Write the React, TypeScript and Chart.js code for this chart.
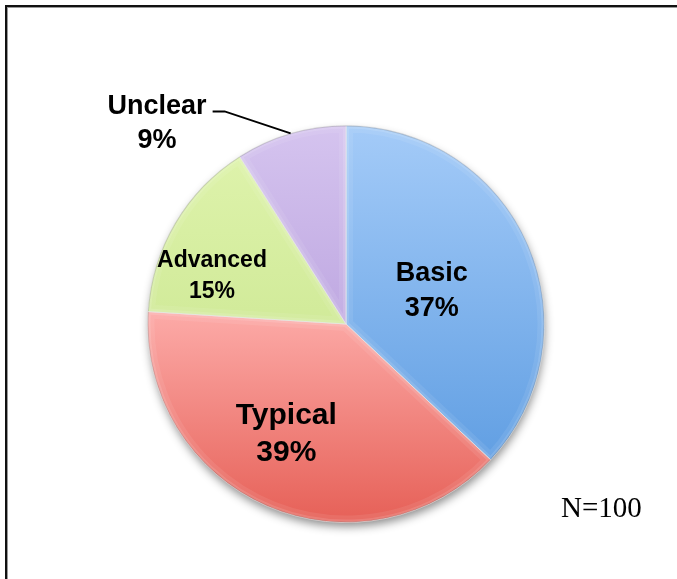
import { useEffect, useRef } from "react";
import { Chart, registerables } from "chart.js";

Chart.register(...registerables);

// Pie data
const categories = ["Basic", "Typical", "Advanced", "Unclear"];
const shares = [37, 39, 15, 9];
const sampleNote = "N=100";

// Vertical gradient stops for each slice, spread over the whole pie height
const sliceStops: [number, string][][] = [
  [[0, "#A4CBF8"], [1, "#5597DF"]],
  [[0, "#FFBEBB"], [0.48, "#FCA9A6"], [1, "#E66057"]],
  [[0, "#E0F4AE"], [1, "#C2E185"]],
  [[0, "#D5C4EF"], [1, "#A98CD3"]],
];

// Label styling per slice: font size, line gap, angle fraction within slice, radius fraction
const labelSize = [27, 30, 23, 27];
const labelGap = [35, 37, 31, 34];
const labelAngleFrac = [0.51, 0.54, 0.31, 0.5];
const labelRadiusFrac = [0.466, 0.62, 0.72, 1];
const outsideLabel = [false, false, false, true];

const LABEL_FONT = '"Liberation Sans", Arial, sans-serif';

function drawLabelLines(ctx: CanvasRenderingContext2D, lines: string[], cx: number, cy: number, size: number, gap: number) {
  ctx.font = `bold ${size}px ${LABEL_FONT}`;
  ctx.fillStyle = "#000";
  ctx.textAlign = "center";
  ctx.textBaseline = "alphabetic";
  lines.forEach((t, i) => {
    const base = cy + (i - (lines.length - 1) / 2) * gap + 0.36 * size;
    ctx.fillText(t, cx, base);
  });
}

const pieDecor = {
  id: "pieDecor",
  beforeDatasetsDraw(chart: any) {
    const arc = chart.getDatasetMeta(0).data[0];
    if (!arc) return;
    const { x, y, outerRadius } = arc.getProps(["x", "y", "outerRadius"], true);
    const ctx = chart.ctx as CanvasRenderingContext2D;
    ctx.save();
    ctx.shadowColor = "rgba(0,0,0,0.45)";
    ctx.shadowBlur = 10;
    ctx.shadowOffsetY = 5;
    ctx.shadowOffsetX = 1;
    ctx.fillStyle = "#bbb";
    ctx.beginPath();
    ctx.arc(x, y, outerRadius - 1, 0, Math.PI * 2);
    ctx.fill();
    ctx.restore();
  },
  afterDatasetsDraw(chart: any) {
    const ctx = chart.ctx as CanvasRenderingContext2D;
    const arcs = chart.getDatasetMeta(0).data;
    // soft bevel along each slice's edges
    arcs.forEach((arc: any) => {
      const { x, y, startAngle, endAngle, outerRadius } = arc.getProps(
        ["x", "y", "startAngle", "endAngle", "outerRadius"],
        true
      );
      ctx.save();
      ctx.beginPath();
      ctx.moveTo(x, y);
      ctx.arc(x, y, outerRadius, startAngle, endAngle);
      ctx.closePath();
      ctx.clip();
      ctx.lineJoin = "round";
      ctx.strokeStyle = "rgba(255,255,255,0.08)";
      ctx.lineWidth = 14;
      ctx.stroke();
      ctx.strokeStyle = "rgba(255,255,255,0.12)";
      ctx.lineWidth = 6;
      ctx.stroke();
      ctx.strokeStyle = "rgba(0,0,0,0.14)";
      ctx.lineWidth = 2;
      ctx.beginPath();
      ctx.arc(x, y, outerRadius, startAngle, endAngle);
      ctx.stroke();
      ctx.restore();
    });
    // slice labels
    arcs.forEach((arc: any, i: number) => {
      const { x, y, startAngle, endAngle, outerRadius } = arc.getProps(
        ["x", "y", "startAngle", "endAngle", "outerRadius"],
        true
      );
      const lines = [categories[i], `${shares[i]}%`];
      const ang = startAngle + (endAngle - startAngle) * labelAngleFrac[i];
      if (!outsideLabel[i]) {
        const r = outerRadius * labelRadiusFrac[i];
        drawLabelLines(ctx, lines, x + Math.cos(ang) * r, y + Math.sin(ang) * r, labelSize[i], labelGap[i]);
      } else {
        const ex = x + Math.cos(ang) * outerRadius;
        const ey = y + Math.sin(ang) * outerRadius;
        const elbowX = ex - 66;
        const elbowY = ey - 22;
        const endX = elbowX - 12;
        ctx.save();
        ctx.strokeStyle = "#000";
        ctx.lineWidth = 2;
        ctx.beginPath();
        ctx.moveTo(ex, ey);
        ctx.lineTo(elbowX, elbowY);
        ctx.lineTo(endX, elbowY);
        ctx.stroke();
        ctx.restore();
        ctx.font = `bold ${labelSize[i]}px ${LABEL_FONT}`;
        const w = ctx.measureText(categories[i]).width;
        const cx = endX - 6 - w / 2;
        const cy = elbowY - 7 + labelGap[i] / 2;
        drawLabelLines(ctx, lines, cx, cy, labelSize[i], labelGap[i]);
      }
    });
    // sample size note
    ctx.save();
    ctx.font = '29px "Liberation Serif", "Times New Roman", serif';
    ctx.fillStyle = "#000";
    ctx.textAlign = "left";
    ctx.textBaseline = "alphabetic";
    ctx.fillText(sampleNote, 561, 517);
    ctx.restore();
  },
};

export default function App() {
  const canvasRef = useRef<HTMLCanvasElement | null>(null);

  useEffect(() => {
    if (!canvasRef.current) return;
    const chart = new Chart(canvasRef.current, {
      type: "pie",
      data: {
        labels: categories,
        datasets: [
          {
            data: shares,
            backgroundColor: (c: any) => {
              const i = c.dataIndex ?? 0;
              const area = c.chart.chartArea;
              if (!area) return sliceStops[i][0][1];
              const g = c.chart.ctx.createLinearGradient(0, area.top, 0, area.bottom);
              sliceStops[i].forEach(([t, col]) => g.addColorStop(t, col));
              return g;
            },
            borderColor: "rgba(230,230,230,0.7)",
            borderWidth: 1,
          },
        ],
      },
      options: {
        responsive: false,
        animation: false,
        layout: { padding: { left: 147, right: 132, top: 125, bottom: 56 } },
        plugins: {
          legend: { display: false },
          tooltip: { enabled: false },
        },
      },
      plugins: [pieDecor],
    });
    return () => chart.destroy();
  }, []);

  return (
    <div
      style={{
        position: "fixed",
        left: 0,
        top: 0,
        width: 677,
        height: 579,
        overflow: "hidden",
        background: "#fff",
      }}
    >
      <canvas ref={canvasRef} width={677} height={579} style={{ position: "absolute", left: 0, top: 0 }} />
      <div
        style={{
          position: "absolute",
          left: 5,
          top: 5,
          width: 720,
          height: 620,
          border: "2px solid #111",
          boxShadow: "inset 1px 1px 0 #999",
          pointerEvents: "none",
        }}
      />
    </div>
  );
}
